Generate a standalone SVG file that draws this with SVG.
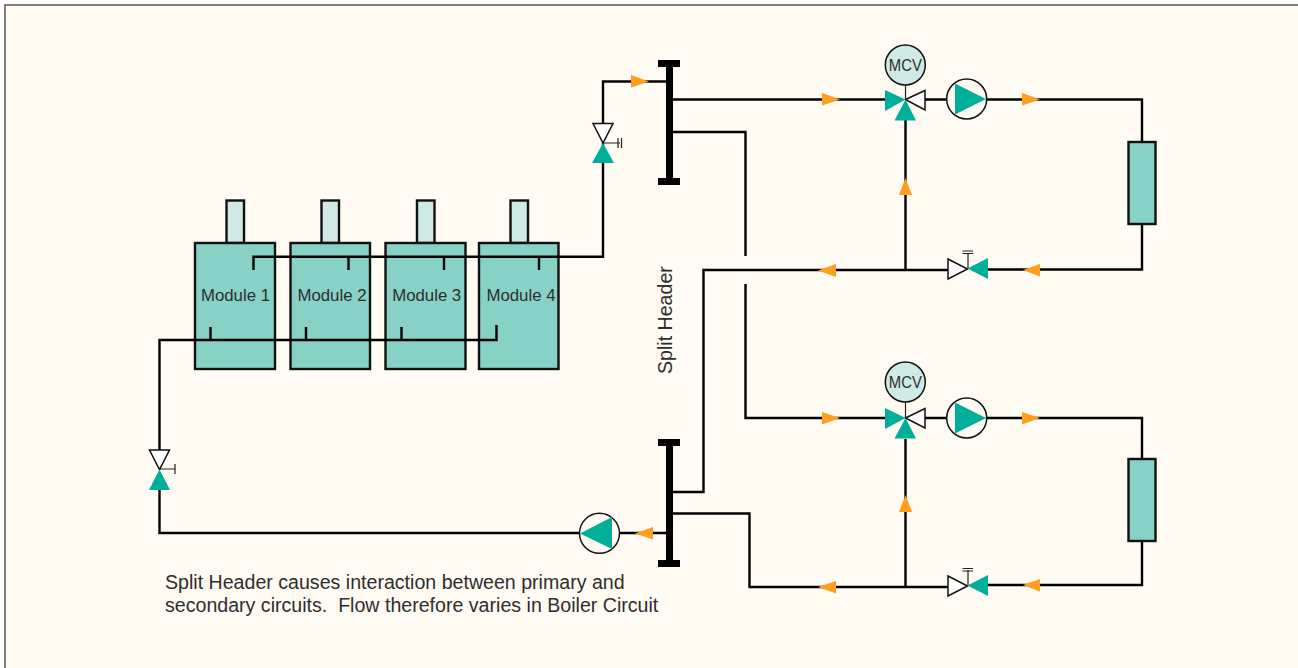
<svg xmlns="http://www.w3.org/2000/svg" width="1298" height="668" viewBox="0 0 1298 668">
<style>
.p{fill:none;stroke:#000;stroke-width:2.4}
.t{fill:none;stroke:#222;stroke-width:1.2}
.h{fill:#000}
.m{fill:#88d1c6;stroke:#111;stroke-width:2.4}
.c{fill:#cfe9e5;stroke:#111;stroke-width:2.4}
.g{fill:#00ae9a}
.o{fill:#ff9d1e}
.w{fill:#fff;stroke:#111;stroke-width:1.5}
.pc{fill:#fffaf2;stroke:#111;stroke-width:1.5}
.mc{fill:#cfe9e5;stroke:#111;stroke-width:1.5}
text{font-family:"Liberation Sans",Arial,sans-serif;fill:#2e2e2e;font-size:19.6px}
.s{font-size:16.8px}
.v{font-size:16px}
</style>
<rect width="1298" height="668" fill="#fff"/>
<rect x="5" y="5" width="1310" height="680" fill="#fffaf2" stroke="#555" stroke-width="1.5"/>
<g id="module-1"><rect class="c" x="226.500" y="200.500" width="17.500" height="42.500"/><rect class="m" x="195" y="243" width="80" height="126"/><text class="s" x="235.500" y="301" text-anchor="middle">Module 1</text></g>
<g id="module-2"><rect class="c" x="321.500" y="200.500" width="17.500" height="42.500"/><rect class="m" x="290.500" y="243" width="79.500" height="126"/><text class="s" x="332" y="301" text-anchor="middle">Module 2</text></g>
<g id="module-3"><rect class="c" x="417" y="200.500" width="17.500" height="42.500"/><rect class="m" x="385.500" y="243" width="80" height="126"/><text class="s" x="426.700" y="301" text-anchor="middle">Module 3</text></g>
<g id="module-4"><rect class="c" x="510.500" y="200.500" width="17.500" height="42.500"/><rect class="m" x="479" y="243" width="79.500" height="126"/><text class="s" x="521" y="301" text-anchor="middle">Module 4</text></g>
<g id="connectors">
<path class="p" d="M253.500 270V256.700H603V143M348.500 257V270M444 257V270M539 257V270"/>
<path class="p" d="M603 123V81.500H666"/>
<path class="p" d="M496.500 325V340H159.500V450M210.500 327V340M306 327V340M401.500 327V340"/>
<path class="p" d="M159.500 490V533H580M620 533H666"/>
<path class="p" d="M673 99.500H886M925 99.500H947M987 99.500H1142V142M1142 224V269.500H988"/>
<path class="p" d="M948 270H703.500V492H673M905.500 270V120"/>
<path class="p" d="M673 132H745.500V256M745.500 284V418H886M925 418H947M987 418H1142V459M1142 541V585H988"/>
<path class="p" d="M948 587H749.500V513.500H673M905.500 587V439"/>
</g>
<g id="header-top" class="h"><rect x="666" y="60" width="7" height="125"/><rect x="658" y="60" width="22" height="7"/><rect x="658" y="178" width="22" height="7"/></g>
<g id="header-bottom" class="h"><rect x="666" y="439" width="7" height="128"/><rect x="658" y="439" width="22" height="7"/><rect x="658" y="560" width="22" height="7"/></g>
<g id="arrows" class="o">
<path d="M631 75L649 81.500L631 87.500Z"/>
<path d="M822 93L840 99.500L822 105.500Z"/>
<path d="M1022 93L1040 99.500L1022 105.500Z"/>
<path d="M1040 264L1023 270L1040 276.500Z"/>
<path d="M836 264L818 270.500L836 277Z"/>
<path d="M899 195L905.500 178L912 195Z"/>
<path d="M822 412L840 418L822 424.500Z"/>
<path d="M1022 412L1040 418L1022 424.500Z"/>
<path d="M1040 579L1023 585L1040 591.500Z"/>
<path d="M836 581L818 587L836 593.500Z"/>
<path d="M899 512L905.500 495L912 512Z"/>
<path d="M653 527L635 533.500L653 539.500Z"/>
</g>
<g id="valve-top-module">
<path class="t" d="M603 143H620M618 138V148M621.500 138V148"/>
<path class="w" d="M593 123.500H613L603 143Z"/><path class="g" d="M603 143L614 163H592Z"/>
</g>
<g id="valve-bottom-module">
<path class="t" d="M159.500 469H175M175 464V474"/>
<path class="w" d="M149.500 450H169.500L159.500 469.500Z"/><path class="g" d="M159.500 469.500L170 490H149Z"/>
</g>
<g id="mcv-top">
<path class="t" d="M905.500 85V99"/>
<circle class="mc" cx="905.300" cy="65" r="20"/><text class="v" x="888.800" y="70.800" textLength="33" lengthAdjust="spacingAndGlyphs">MCV</text>
<path class="w" d="M905.500 99.500L925 90.500V110Z"/><path class="g" d="M905.500 99.500L885 90V111Z"/><path class="g" d="M905.500 99.500L916 120.500H894.500Z"/>
</g>
<g id="pump-top"><circle class="pc" cx="966.700" cy="99" r="20"/><path class="g" d="M955 83.500L986 99L955 114.500Z"/></g>
<g id="load-top"><rect class="m" x="1128.500" y="142" width="27" height="82"/></g>
<g id="balance-top">
<path class="t" d="M968 268V253M962.500 251H973M962.500 253.500H973"/>
<path class="w" d="M948 259L967.500 269L948 279Z"/><path class="g" d="M967.500 268.500L988 258V279Z"/>
</g>
<g id="mcv-bottom">
<path class="t" d="M905.500 402V418"/>
<circle class="mc" cx="905.300" cy="382" r="20"/><text class="v" x="888.800" y="387.800" textLength="33" lengthAdjust="spacingAndGlyphs">MCV</text>
<path class="w" d="M905.500 418L925 408.500V428Z"/><path class="g" d="M905.500 418L885 408V429Z"/><path class="g" d="M905.500 418L916 438.500H894.500Z"/>
</g>
<g id="pump-bottom"><circle class="pc" cx="966.700" cy="418" r="20"/><path class="g" d="M955 402.500L986 418L955 433.500Z"/></g>
<g id="load-bottom"><rect class="m" x="1128.500" y="459" width="27" height="82"/></g>
<g id="balance-bottom">
<path class="t" d="M968 585V570M962.500 568.500H973M962.500 571H973"/>
<path class="w" d="M948 576L967.500 586L948 596Z"/><path class="g" d="M967.500 585.500L988 575V596Z"/>
</g>
<g id="pump-primary"><circle class="pc" cx="599.500" cy="533.300" r="20"/><path class="g" d="M580 533.500L612 517V549Z"/></g>
<text x="672" y="374" transform="rotate(-90 672 374)">Split Header</text>
<text x="165" y="589">Split Header causes interaction between primary and</text>
<text x="165" y="612" xml:space="preserve">secondary circuits.  Flow therefore varies in Boiler Circuit</text>
</svg>
